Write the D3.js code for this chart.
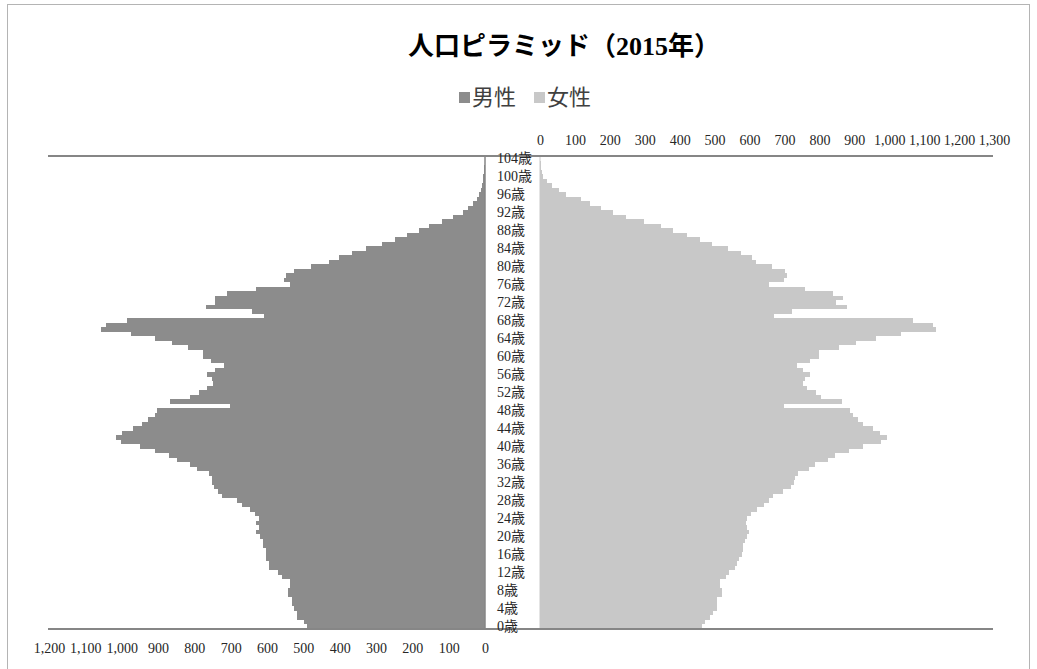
<!DOCTYPE html>
<html lang="ja">
<head>
<meta charset="utf-8">
<script src="https://cdn.jsdelivr.net/npm/d3@7"></script>
<style>
  html, body { margin: 0; padding: 0; background: #fff; }
  svg { display: block; }
  .serif { font-family: "Liberation Serif", "Noto Sans CJK JP", serif; }
</style>
</head>
<body>
<svg id="chart" width="1037" height="669"></svg>
<script>
// Population by single year of age, 2015 (thousands)
const ages = d3.range(0, 105);

const male = [
  490, 499, 517, 517, 527, 531, 531, 543, 543, 538,
  538, 559, 571, 595, 595, 604, 604, 604, 611, 611,
  618, 629, 623, 629, 623, 632, 647, 668, 682, 723,
  735, 746, 751, 751, 760, 792, 813, 847, 870, 908,
  950, 1003, 1016, 998, 970, 943, 927, 907, 902, 702,
  867, 812, 788, 765, 749, 751, 765, 742, 719, 754,
  776, 776, 818, 861, 907, 973, 1058, 1044, 986, 609,
  641, 769, 742, 744, 711, 629, 536, 552, 549, 527,
  478, 428, 401, 366, 327, 284, 249, 215, 183, 153,
  119, 87, 61, 48, 34, 23, 16, 12, 9, 6,
  5, 3, 2, 1, 0.5
];

const female = [
  463, 472, 487, 496, 508, 506, 508, 520, 520, 515,
  515, 533, 542, 558, 563, 571, 577, 582, 582, 587,
  592, 599, 592, 589, 592, 603, 621, 640, 657, 668,
  697, 718, 727, 730, 740, 771, 788, 824, 845, 885,
  926, 976, 995, 974, 953, 924, 912, 895, 888, 699,
  864, 806, 789, 765, 752, 759, 773, 754, 737, 773,
  798, 800, 855, 905, 961, 1034, 1133, 1124, 1067, 670,
  723, 878, 848, 869, 838, 759, 657, 699, 708, 702,
  665, 619, 606, 576, 539, 493, 458, 422, 380, 346,
  298, 245, 208, 174, 142, 117, 75, 55, 34, 19,
  10, 7, 4, 2, 1
];

const maleTicks = d3.range(0, 1201, 100);
const femaleTicks = d3.range(0, 1301, 100);
const ageTicks = d3.range(0, 105, 4);

const title = "人口ピラミッド（2015年）";
const seriesNames = ["男性", "女性"];
const colors = { male: "#8c8c8c", female: "#c8c8c8" };

const svg = d3.select("#chart");

// chart frame
svg.append("rect")
  .attr("x", 7.5).attr("y", 4.5)
  .attr("width", 1022).attr("height", 672)
  .attr("fill", "none").attr("stroke", "#b4b4b4").attr("stroke-width", 1);

const plotTop = 156, plotBottom = 629;

const y = d3.scaleBand().domain(ages).range([plotBottom, plotTop]).paddingInner(0).paddingOuter(0);
const xL = d3.scaleLinear().domain([0, 1200]).range([485, 49]);
const xR = d3.scaleLinear().domain([0, 1300]).range([540, 994]);

// male bars (extend leftwards from zero)
svg.append("g")
  .attr("shape-rendering", "crispEdges")
  .selectAll("rect")
  .data(ages)
  .join("rect")
  .attr("x", d => xL(male[d]))
  .attr("y", d => y(d))
  .attr("width", d => xL(0) - xL(male[d]))
  .attr("height", y.bandwidth())
  .attr("fill", colors.male);

// female bars
svg.append("g")
  .attr("shape-rendering", "crispEdges")
  .selectAll("rect")
  .data(ages)
  .join("rect")
  .attr("x", xR(0))
  .attr("y", d => y(d))
  .attr("width", d => xR(female[d]) - xR(0))
  .attr("height", y.bandwidth())
  .attr("fill", colors.female);

// vertical category axis lines
svg.append("line")
  .attr("x1", 485).attr("x2", 485).attr("y1", plotTop).attr("y2", plotBottom)
  .attr("stroke", "#868686").attr("stroke-width", 1.5);
svg.append("line")
  .attr("x1", 540).attr("x2", 540).attr("y1", plotTop).attr("y2", plotBottom)
  .attr("stroke", "#c8c8c8").attr("stroke-width", 1);

// horizontal axis lines
[plotTop, plotBottom].forEach(yy => {
  svg.append("line")
    .attr("x1", 48).attr("x2", 993).attr("y1", yy).attr("y2", yy)
    .attr("stroke", "#868686").attr("stroke-width", 2);
});

// value axes
const fmt = d3.format(",");
const axL = svg.append("g")
  .attr("transform", `translate(0,${plotBottom + 24})`)
  .call(d3.axisBottom(xL).tickValues(maleTicks).tickFormat(fmt).tickSize(0).tickPadding(0));
const axR = svg.append("g")
  .attr("transform", `translate(0,${plotTop - 11})`)
  .call(d3.axisTop(xR).tickValues(femaleTicks).tickFormat(fmt).tickSize(0).tickPadding(0));
[axL, axR].forEach(g => {
  g.select(".domain").remove();
  g.selectAll("text")
    .attr("class", "serif")
    .attr("dy", null)
    .attr("y", 0)
    .style("font-size", "14px")
    .attr("fill", "#262626");
});

// age labels
const axA = svg.append("g")
  .attr("transform", "translate(497,0)")
  .call(d3.axisRight(y).tickValues(ageTicks).tickFormat(d => d + "歳").tickSize(0).tickPadding(0));
axA.select(".domain").remove();
axA.selectAll("text")
  .attr("class", "serif")
  .attr("text-anchor", "start")
  .attr("x", 0)
  .style("font-size", "14px")
  .attr("fill", "#262626");

// title
svg.append("text")
  .attr("class", "serif")
  .attr("x", 564).attr("y", 55)
  .attr("text-anchor", "middle")
  .style("font-size", "26px").style("font-weight", "bold")
  .attr("fill", "#000")
  .text(title);

// legend
const legend = svg.append("g").attr("class", "serif");
const legendItems = [
  { name: seriesNames[0], color: colors.male, x: 459 },
  { name: seriesNames[1], color: colors.female, x: 534 }
];
legendItems.forEach(it => {
  legend.append("rect")
    .attr("x", it.x).attr("y", 92).attr("width", 11).attr("height", 11)
    .attr("fill", it.color);
  legend.append("text")
    .attr("x", it.x + 13).attr("y", 105)
    .style("font-size", "22px")
    .attr("fill", "#404040")
    .text(it.name);
});
</script>
</body>
</html>
